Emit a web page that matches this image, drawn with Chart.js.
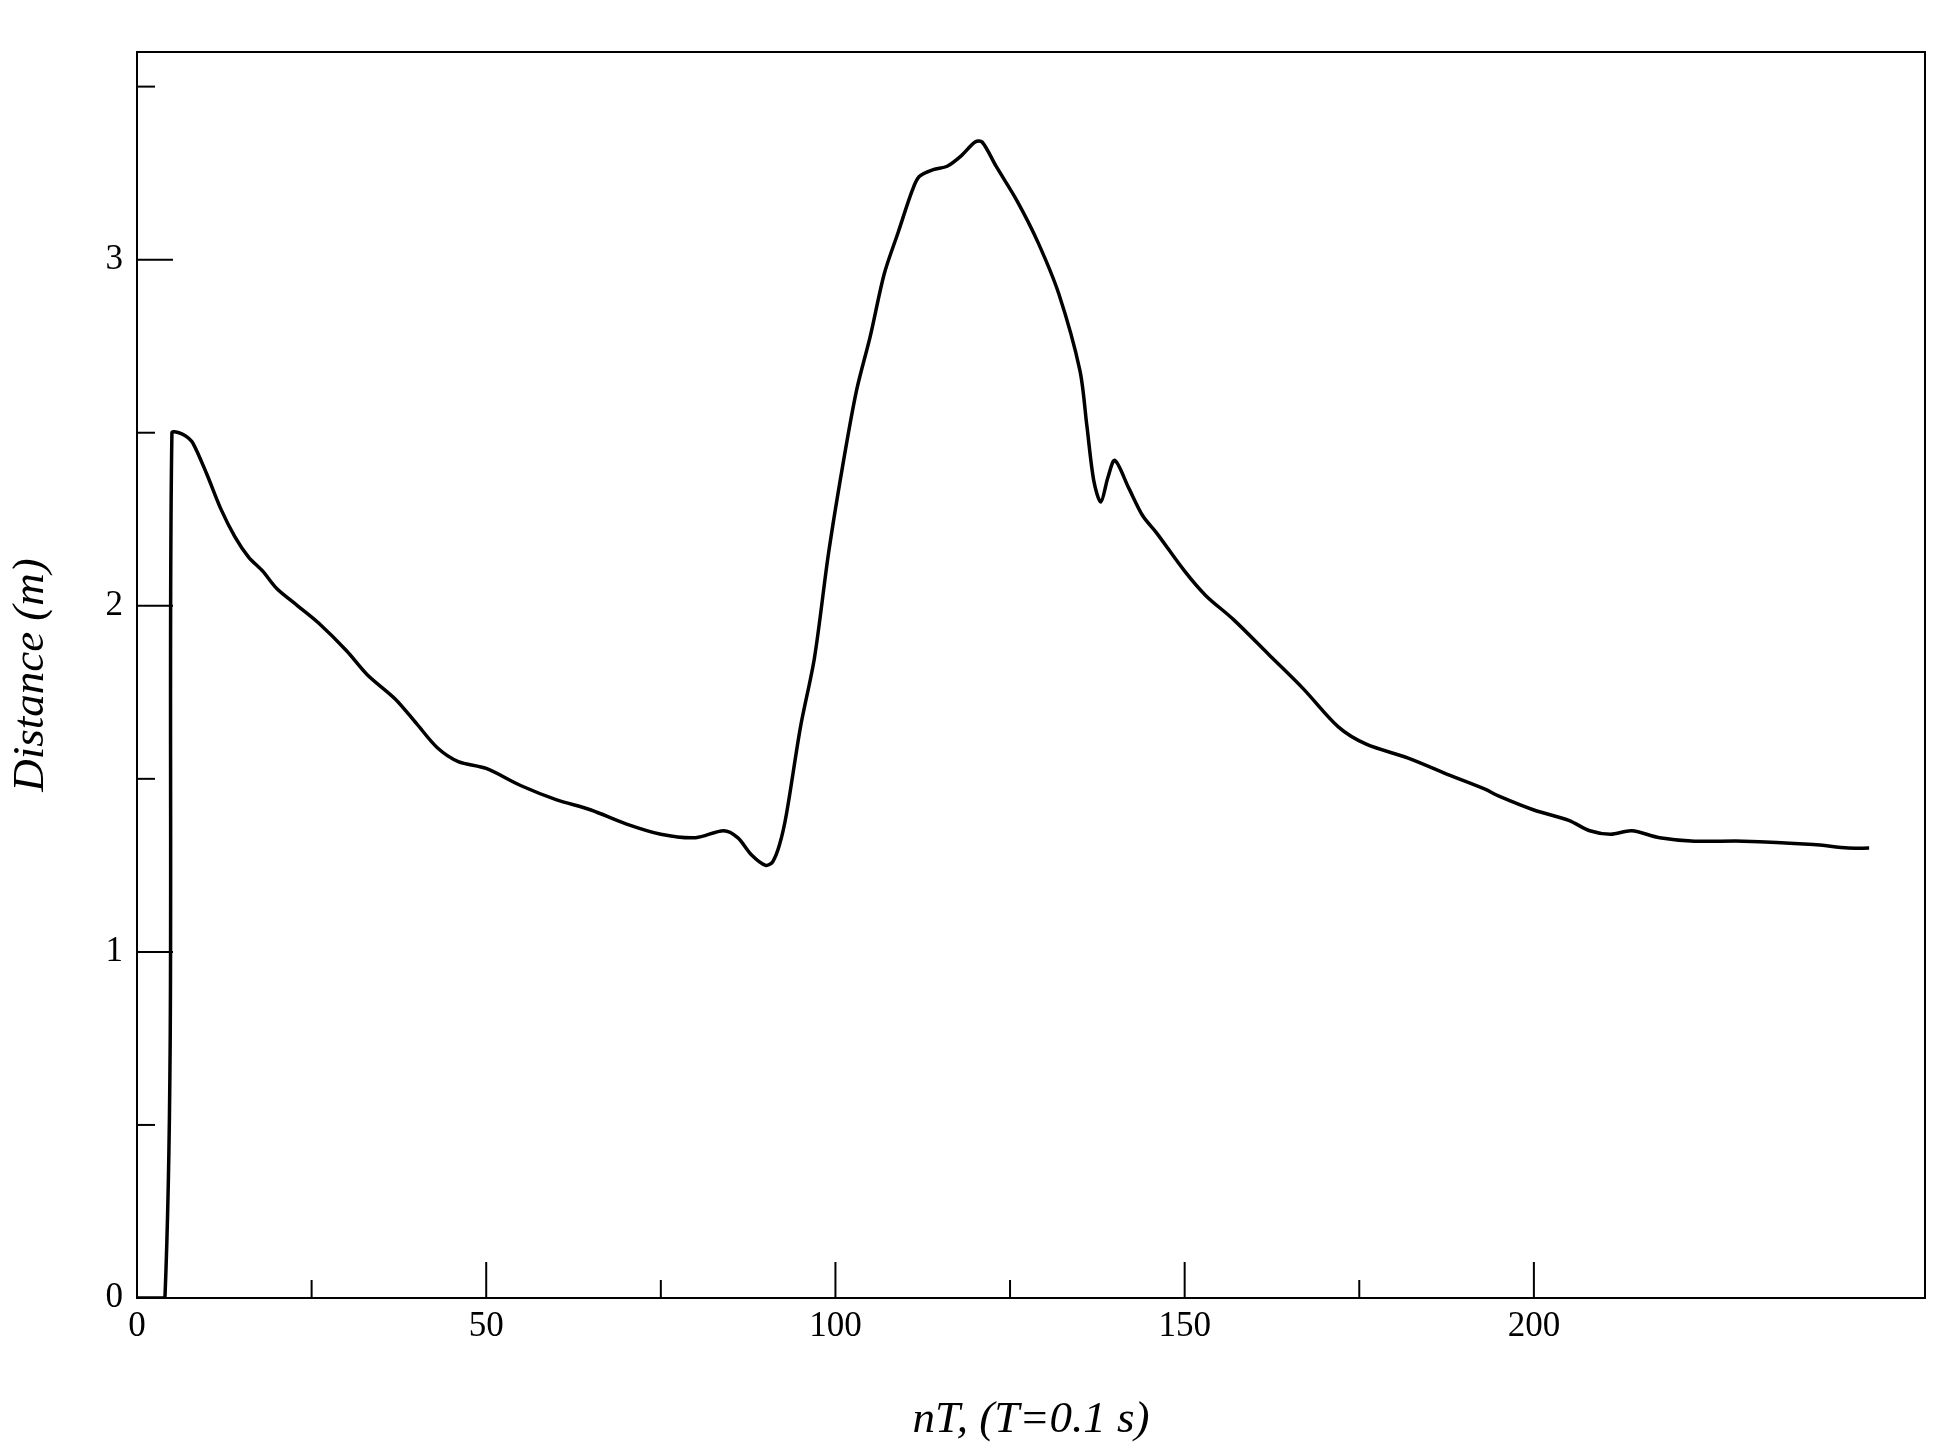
<!DOCTYPE html>
<html>
<head>
<meta charset="utf-8">
<script src="https://cdn.jsdelivr.net/npm/chart.js@4"></script>
<style>
  html, body { margin: 0; padding: 0; background: #fff; }
  #wrap { width: 1959px; height: 1451px; }
</style>
</head>
<body>
<div id="wrap"><canvas id="chart"></canvas></div>
<script>
// sample index nT and distance in metres
const nT = [0, 4, 5, 6, 7, 8, 10, 12, 14, 16, 18, 20, 23, 26, 30, 33, 37, 40, 43, 46, 50,
  55, 60, 65, 70, 75, 80, 84, 86, 88, 90, 91, 92, 93, 95, 97, 99, 101, 103, 105, 107,
  109, 111, 112, 114, 116, 118, 120, 121, 123, 126, 129, 132, 135, 136, 137, 138, 139,
  140, 142, 144, 146, 150, 153, 157, 162, 167, 172, 176, 182, 188, 193, 195, 200, 205,
  208, 211, 214, 218, 223, 230, 240, 245, 248];
const distance = [0, 0, 2.5, 2.5, 2.49, 2.47, 2.38, 2.28, 2.2, 2.14, 2.1, 2.05, 2.0, 1.95,
  1.87, 1.8, 1.73, 1.66, 1.59, 1.55, 1.53, 1.48, 1.44, 1.41, 1.37, 1.34, 1.33, 1.35, 1.33,
  1.28, 1.25, 1.26, 1.31, 1.4, 1.65, 1.85, 2.15, 2.4, 2.62, 2.78, 2.96, 3.08, 3.2, 3.24,
  3.26, 3.27, 3.3, 3.34, 3.34, 3.27, 3.17, 3.05, 2.9, 2.68, 2.52, 2.36, 2.3, 2.37, 2.42,
  2.34, 2.26, 2.21, 2.1, 2.03, 1.96, 1.86, 1.76, 1.65, 1.6, 1.56, 1.51, 1.47, 1.45, 1.41,
  1.38, 1.35, 1.34, 1.35, 1.33, 1.32, 1.32, 1.31, 1.3, 1.3];
const xMajor = [0, 50, 100, 150, 200];
const xMinor = [25, 75, 125, 175];
const yMajor = [0, 1, 2, 3];
const yMinor = [0.5, 1.5, 2.5, 3.5];

const serif = '"Liberation Serif", "DejaVu Serif", serif';

// frame and inward tick marks, in the xmgrace style
const frameTicks = {
  id: 'frameTicks',
  afterDraw(chart) {
    const { ctx, chartArea: a, scales: { x, y } } = chart;
    ctx.save();
    ctx.strokeStyle = '#000';
    ctx.lineWidth = 2;
    ctx.strokeRect(a.left, a.top, a.right - a.left, a.bottom - a.top);
    const tick = (vals, len, isX) => vals.forEach(v => {
      ctx.beginPath();
      if (isX) {
        const px = x.getPixelForValue(v);
        ctx.moveTo(px, a.bottom); ctx.lineTo(px, a.bottom - len);
      } else {
        const py = y.getPixelForValue(v);
        ctx.moveTo(a.left, py); ctx.lineTo(a.left + len, py);
      }
      ctx.stroke();
    });
    tick(xMajor, 36, true); tick(xMinor, 18, true);
    tick(yMajor, 36, false); tick(yMinor, 18, false);
    ctx.restore();
  }
};

new Chart(document.getElementById('chart'), {
  type: 'line',
  data: {
    datasets: [{
      data: nT.map((v, i) => ({ x: v, y: distance[i] })),
      borderColor: '#000',
      borderWidth: 3.5,
      pointRadius: 0,
      tension: 0.3,
      fill: false
    }]
  },
  options: {
    responsive: true,
    maintainAspectRatio: false,
    animation: false,
    layout: { padding: { top: 52, right: 34, left: 0, bottom: 0 } },
    plugins: { legend: { display: false }, tooltip: { enabled: false } },
    scales: {
      x: {
        type: 'linear', min: 0, max: 256,
        afterFit: s => { s.height = 153; },
        afterBuildTicks: s => { s.ticks = xMajor.map(v => ({ value: v })); },
        grid: { display: false, drawTicks: false },
        border: { display: false },
        ticks: { color: '#000', font: { family: serif, size: 35 }, padding: 8 },
        title: { display: true, text: 'nT, (T=0.1 s)', color: '#000',
                 font: { family: serif, size: 45, style: 'italic' }, padding: { top: 0 } }
      },
      y: {
        min: 0, max: 3.6,
        afterFit: s => { s.width = 137; },
        afterBuildTicks: s => { s.ticks = yMajor.map(v => ({ value: v })); },
        grid: { display: false, drawTicks: false },
        border: { display: false },
        ticks: { color: '#000', font: { family: serif, size: 35 }, padding: 14 },
        title: { display: true, text: 'Distance (m)', color: '#000',
                 font: { family: serif, size: 45, style: 'italic' }, padding: { bottom: 10 } }
      }
    }
  },
  plugins: [frameTicks]
});
</script>
</body>
</html>
